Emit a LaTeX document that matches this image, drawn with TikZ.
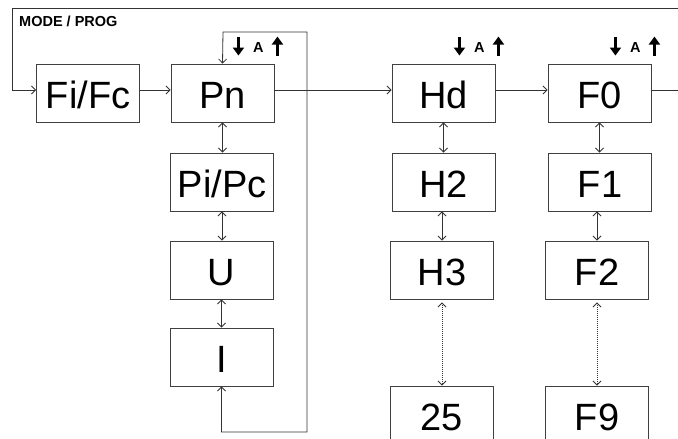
\documentclass[tikz,border=0pt]{standalone}
\usepackage{fontspec}
\setmainfont{Liberation Sans}
\usetikzlibrary{arrows.meta}
\tikzset{
  box/.style={draw=black!75, line width=0.9pt, minimum width=103pt, minimum height=58pt,
    inner sep=0pt, text height=30pt, text depth=0pt, font=\fontsize{38}{38}\selectfont},
  conn/.style={draw=black!80, line width=0.8pt},
  tip/.style={conn, -{Straight Barb[length=4pt,width=8pt]}},
  tips/.style={conn, {Straight Barb[length=4pt,width=8pt]}-{Straight Barb[length=4pt,width=8pt]}},
  dtips/.style={tips, dash pattern=on 1pt off 1pt, shorten <=3pt},
  keyarrow/.style={black, line width=2.6pt, -{Triangle[length=8pt,width=11pt]}},
  keylabel/.style={font=\bfseries\fontsize{14.5}{14.5}\selectfont, inner sep=0pt},
}
\begin{document}
\begin{tikzpicture}[x=1pt, y=-1pt]
\useasboundingbox (0,0) rectangle (678,439);
% boxes
\node[box] (FiFc) at (88,93) {Fi/Fc};
\node[box] (Pn) at (222.5,93) {Pn};
\node[box] (PiPc) at (222,182) {Pi/Pc};
\node[box] (U) at (221.5,270) {U};
\node[box] (I) at (221.5,357) {I};
\node[box] (Hd) at (443.5,93) {Hd};
\node[box] (H2) at (443.5,182) {H2};
\node[box] (H3) at (442,270) {H3};
\node[box] (N25) at (442,415) {25};
\node[box] (F0) at (599.5,93) {F0};
\node[box] (F1) at (600,182) {F1};
\node[box] (F2) at (597,270) {F2};
\node[box] (F9) at (597,415) {F9};
% label
\node[anchor=base west, font=\bfseries\fontsize{14.5}{14.5}\selectfont, inner sep=0pt] (mode) at (19,27) {MODE / PROG};
% coordinates
\coordinate (topR) at (678,8);
\coordinate (topL) at (12,8);
\coordinate (outR) at (678,90);
\coordinate (loopBR) at (307,432);
\coordinate (loopTL) at (223,32);
% main flow
\draw[tip] (topR) -- (topL) |- ([yshift=3pt]FiFc.west);
\draw[tip] ([yshift=3pt]FiFc.east) -- ([yshift=3pt]Pn.west);
\draw[tip] ([yshift=3pt]Pn.east) -- ([yshift=3pt]Hd.west);
\draw[tip] ([yshift=3pt]Hd.east) -- ([yshift=3pt]F0.west);
\draw[conn] ([yshift=3pt]F0.east) -- (outR);
% P loop
\draw[tips] (I.south) |- (loopBR) |- (loopTL) -- (Pn.north);
% vertical links
\draw[tips] (Pn.south) -- (Pn.south |- PiPc.north);
\draw[tips] (PiPc.south) -- (PiPc.south |- U.north);
\draw[tips] (U.south) -- (I.north);
\draw[tips] (Hd.south) -- (H2.north);
\draw[tips] (H3.north |- H2.south) -- (H3.north);
\draw[dtips] (H3.south) -- (N25.north);
\draw[tips] (F0.south) -- (F0.south |- F1.north);
\draw[tips] (F2.north |- F1.south) -- (F2.north);
\draw[dtips] (F2.south) -- (F9.north);
% key symbols
\foreach \b in {Pn,Hd,F0}{
  \draw[keyarrow] ([xshift=-36pt,yshift=27pt]\b.north east) -- ([xshift=-36pt,yshift=8pt]\b.north east);
  \node[keylabel] (A\b) at ([xshift=-16pt,yshift=16pt]\b.north east) {A};
  \draw[keyarrow] ([xshift=3pt,yshift=8pt]\b.north east) -- ([xshift=3pt,yshift=27pt]\b.north east);
}
\end{tikzpicture}
\end{document}
